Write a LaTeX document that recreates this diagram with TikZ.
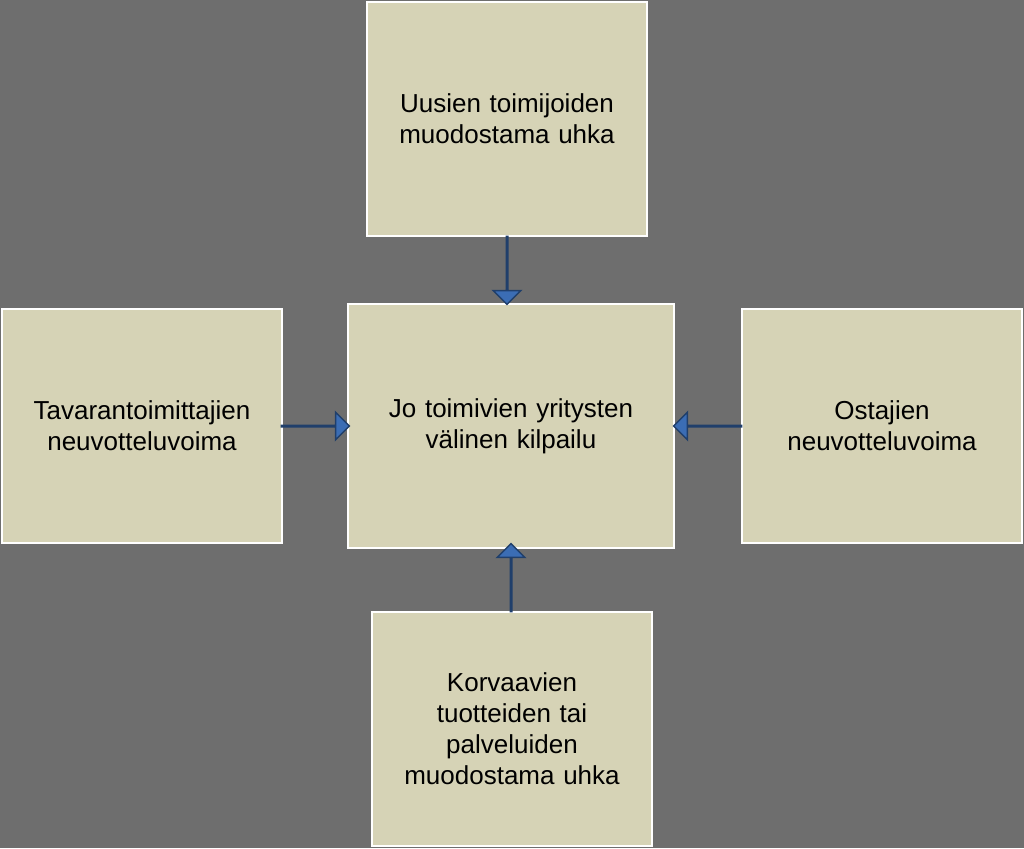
\documentclass[tikz,border=0pt]{standalone}
\usepackage{fontspec}
\setmainfont{Liberation Sans}
\usetikzlibrary{shapes.arrows,calc}
\definecolor{boxfill}{HTML}{D6D3B6}
\definecolor{bggray}{HTML}{6E6E6E}
\definecolor{arrowblue}{HTML}{3B6DB4}
\definecolor{arrowedge}{HTML}{203F6B}
\tikzset{
  forcebox/.style={draw=white, line width=2pt, fill=boxfill, inner sep=0pt,
    minimum width=280pt, minimum height=234pt, text width=270pt, align=center,
    font=\fontsize{26}{31}\selectfont},
  blockarrow/.style={single arrow, draw=arrowedge, line width=1.5pt, fill=arrowblue,
    minimum width=26pt, minimum height=68pt, single arrow head extend=13pt,
    inner sep=0pt, anchor=center}
}
\begin{document}
\begin{tikzpicture}[x=1pt,y=-1pt]
  \fill[bggray] (0,0) rectangle (1024,848);
  \useasboundingbox (0,0) rectangle (1024,848);

  % boxes
  \node[forcebox, minimum width=326pt, minimum height=244pt] (rivalry) at (511,426) {Jo toimivien yritysten\\välinen kilpailu};
  \node[forcebox] (entrants) at (507,119) {Uusien toimijoiden\\muodostama uhka};
  \node[forcebox] (suppliers) at (142,426) {Tavarantoimittajien\\neuvotteluvoima};
  \node[forcebox] (buyers) at (882,426) {Ostajien\\neuvotteluvoima};
  \node[forcebox] (substitutes) at (512,729) {Korvaavien\\tuotteiden tai\\palveluiden\\muodostama uhka};

  % arrows
  \node[blockarrow, rotate=-90] (a1) at ($(entrants.south)!0.5!(entrants.south |- rivalry.north)$) {};
  \node[blockarrow] (a2) at ($(suppliers.east)!0.5!(rivalry.west |- suppliers.east)$) {};
  \node[blockarrow, rotate=180] (a3) at ($(buyers.west)!0.5!(rivalry.east |- buyers.west)$) {};
  \node[blockarrow, rotate=90] (a4) at (511,578) {};
\end{tikzpicture}
\end{document}
